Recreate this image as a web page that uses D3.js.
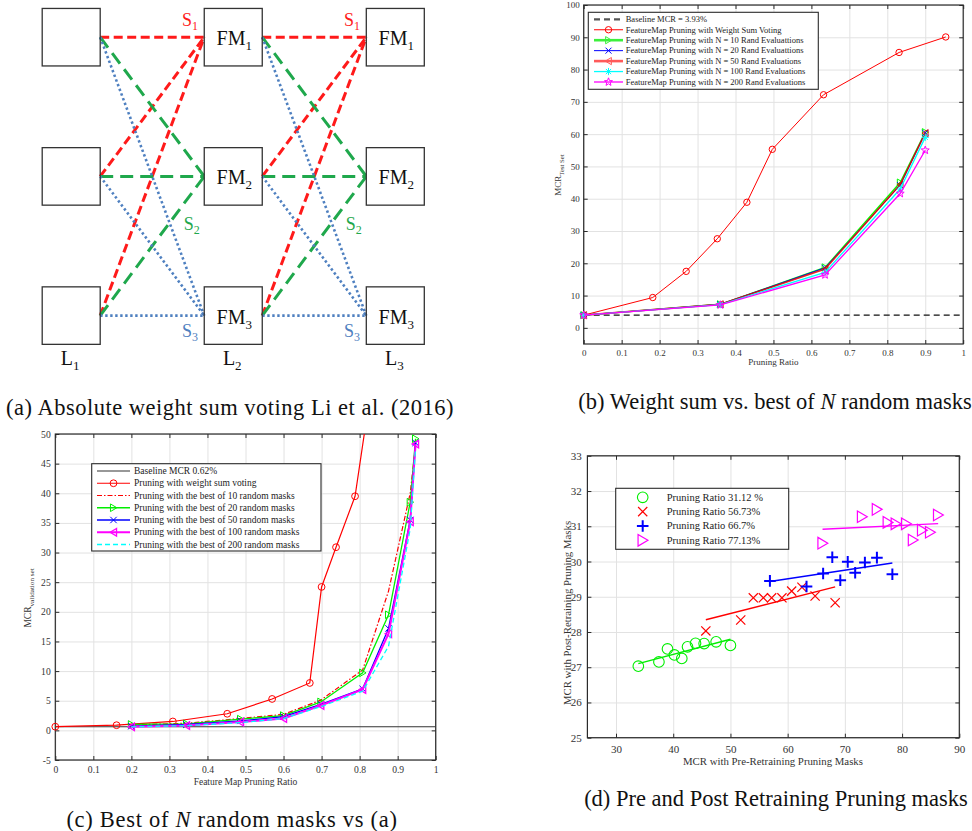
<!DOCTYPE html>
<html>
<head>
<meta charset="utf-8">
<script src="https://cdn.jsdelivr.net/npm/d3@7"></script>
<style>
body{margin:0;background:#fff}
text{font-family:'Liberation Serif','Times New Roman',serif}
</style>
</head>
<body>
<div id="fig"></div>
<script>
// ---------- (a) diagram ----------
var layerNames = ["1", "2", "3"];
var fmNames = ["1", "2", "3"];
var setNames = ["1", "2", "3"];

// ---------- (b) test set MCR ----------
var bXWeight = [0, 0.182, 0.27, 0.352, 0.43, 0.497, 0.632, 0.831, 0.954];
var bYWeight = [3.93, 9.4, 17.5, 27.6, 38.9, 55.3, 72.2, 85.3, 90.1];
var bXRand = [0, 0.36, 0.636, 0.834, 0.9];
var bYN10 = [3.93, 7.3, 18.7, 45.0, 60.6];
var bYN20 = [3.93, 7.3, 18.6, 44.2, 60.4];
var bYN50 = [3.93, 7.3, 18.2, 44.4, 60.3];
var bYN100 = [3.93, 7.2, 17.2, 43.0, 59.0];
var bYN200 = [3.93, 7.1, 16.4, 41.6, 55.0];
var bBaseline = 3.93;
var bLabels = ["Baseline MCR = 3.93%",
  "FeatureMap Pruning with Weight Sum Voting",
  "FeatureMap Pruning with N = 10 Rand Evaluattions",
  "FeatureMap Pruning with N = 20 Rand Evaluattions",
  "FeatureMap Pruning with N = 50 Rand Evaluations",
  "FeatureMap Pruning with N = 100 Rand Evaluations",
  "FeatureMap Pruning with N = 200 Rand Evaluations"];

// ---------- (c) validation set MCR ----------
var cXWeight = [0, 0.161, 0.309, 0.452, 0.57, 0.669, 0.70, 0.738, 0.788, 0.84];
var cYWeight = [0.62, 0.87, 1.5, 2.8, 5.3, 8.0, 24.2, 30.9, 39.5, 62];
var cXRand = [0.2, 0.345, 0.487, 0.6, 0.698, 0.808, 0.876, 0.933, 0.947];
var cYN10 = [0.9, 1.2, 2.0, 2.7, 5.1, 10.2, 23.5, 40.0, 48.0];
var cYN20 = [1.0, 1.1, 1.9, 2.5, 4.8, 9.7, 19.5, 38.5, 49.2];
var cYN50 = [0.7, 1.0, 1.6, 2.3, 4.4, 7.0, 17.2, 35.5, 48.5];
var cYN100 = [0.6, 0.8, 1.4, 2.0, 4.2, 6.9, 16.3, 35.2, 48.3];
var cYN200 = [0.6, 0.8, 1.3, 2.0, 4.0, 6.6, 14.2, 34.0, 47.5];
var cBaseline = 0.62;
var cLabels = ["Baseline MCR 0.62%",
  "Pruning with weight sum voting",
  "Pruning with the best of 10 random masks",
  "Pruning with the best of 20 random masks",
  "Pruning with the best of 50 random masks",
  "Pruning with the best of 100 random masks",
  "Pruning with the best of 200 random masks"];

// ---------- (d) pre vs post retraining ----------
var dX31 = [33.9, 37.5, 39.0, 40.2, 41.5, 42.5, 43.9, 45.4, 47.5, 50.0];
var dY31 = [27.03, 27.15, 27.52, 27.35, 27.25, 27.58, 27.68, 27.67, 27.72, 27.62];
var dX56 = [45.7, 51.8, 54.0, 55.75, 57.2, 59.0, 60.7, 62.5, 64.8, 68.3];
var dY56 = [28.03, 28.34, 28.97, 28.97, 28.97, 28.97, 29.16, 29.27, 29.02, 28.83];
var dX66 = [56.9, 63.3, 66.2, 67.8, 69.2, 70.5, 71.8, 73.5, 75.6, 78.3];
var dY66 = [29.45, 29.29, 29.66, 30.12, 29.47, 29.99, 29.68, 29.97, 30.11, 29.64];
var dX77 = [66.1, 73.0, 75.6, 77.5, 78.9, 80.7, 81.9, 83.5, 84.9, 86.3];
var dY77 = [30.52, 31.27, 31.48, 31.11, 31.07, 31.07, 30.61, 30.89, 30.83, 31.32];
var dLabels = ["Pruning Ratio 31.12 %", "Pruning Ratio 56.73%", "Pruning Ratio 66.7%", "Pruning Ratio 77.13%"];

var serif = "'Liberation Serif','Times New Roman',serif";
var axisColor = "#2b2b2b";
var gridColor = "#e2e2e2";

var svg = d3.select("#fig").append("svg")
    .attr("width", 972)
    .attr("height", 831)
    .style("background", "#fff")
    .attr("font-family", serif);

// ================= (a) =================
var colX = d3.scalePoint().domain(d3.range(layerNames.length)).range([71.2, 395.3]);
var rowY = d3.scalePoint().domain(d3.range(fmNames.length)).range([37.2, 315.6]);
var boxW = 58, boxH = 57.5;
var setColor = ["#ff1a1a", "#1fa84c", "#4f80c0"];
var setDash = ["9,4.5", "13,7", "2.4,2.6"];
var setWidth = [3, 3, 2.6];
var setLabelOff = [[-14.3, -11.7], [-12.6, 53.2], [-14.3, 21.8]];

var $a = svg.append("g");
var links = [];
for (var l = 0; l < layerNames.length - 1; l++)
    for (var s = 0; s < fmNames.length; s++)
        for (var r = 0; r < fmNames.length; r++) links.push({l: l, r: r, s: s});

$a.selectAll("line.link").data(links).join("line")
    .attr("class", "link")
    .attr("x1", d => colX(d.l) + boxW / 2)
    .attr("y1", d => rowY(d.r))
    .attr("x2", d => colX(d.l + 1) - boxW / 2)
    .attr("y2", d => rowY(d.s))
    .attr("stroke", d => setColor[d.s])
    .attr("stroke-width", d => setWidth[d.s])
    .attr("stroke-dasharray", d => setDash[d.s]);

var nodes = [];
layerNames.forEach((ln, li) => fmNames.forEach((fn, ri) => nodes.push({l: li, r: ri, fm: fn})));
$a.selectAll("rect.node").data(nodes).join("rect")
    .attr("class", "node")
    .attr("x", d => colX(d.l) - boxW / 2)
    .attr("y", d => rowY(d.r) - boxH / 2)
    .attr("width", boxW)
    .attr("height", boxH)
    .attr("fill", "none")
    .attr("stroke", "#333")
    .attr("stroke-width", 1.3);

var fmText = $a.selectAll("text.fm").data(nodes.filter(d => d.l > 0)).join("text")
    .attr("class", "fm")
    .attr("x", d => colX(d.l) + 1)
    .attr("y", d => rowY(d.r) + 8)
    .attr("text-anchor", "middle")
    .attr("font-size", 20)
    .attr("fill", "#111");
fmText.append("tspan").text("FM");
fmText.append("tspan").attr("font-size", 13).attr("dy", 5).text(d => d.fm);

var sLabels = [];
for (var l = 1; l < layerNames.length; l++) setNames.forEach((sn, si) => sLabels.push({l: l, s: si, name: sn}));
var sText = $a.selectAll("text.sl").data(sLabels).join("text")
    .attr("class", "sl")
    .attr("x", d => colX(d.l) - boxW / 2 + setLabelOff[d.s][0])
    .attr("y", d => rowY(d.s) + setLabelOff[d.s][1])
    .attr("text-anchor", "middle")
    .attr("font-size", 18)
    .attr("fill", d => setColor[d.s]);
sText.append("tspan").text("S");
sText.append("tspan").attr("font-size", 12).attr("dy", 4).text(d => d.name);

var lText = $a.selectAll("text.ll").data(layerNames).join("text")
    .attr("class", "ll")
    .attr("x", (d, i) => colX(i) - 1)
    .attr("y", 365)
    .attr("text-anchor", "middle")
    .attr("font-size", 20)
    .attr("fill", "#111");
lText.append("tspan").text("L");
lText.append("tspan").attr("font-size", 13).attr("dy", 5).text(d => d);

// ================= helpers =================
function markerPath(type, s) {
    switch (type) {
        case "circle":
            return `M${-s},0a${s},${s} 0 1,0 ${2 * s},0a${s},${s} 0 1,0 ${-2 * s},0Z`;
        case "x":
            return `M${-s},${-s}L${s},${s}M${-s},${s}L${s},${-s}`;
        case "plus":
            return `M${-s},0H${s}M0,${-s}V${s}`;
        case "triRight":
            return `M${-s * 0.8},${-s}L${s * 0.9},0L${-s * 0.8},${s}Z`;
        case "triLeft":
            return `M${s * 0.8},${-s}L${-s * 0.9},0L${s * 0.8},${s}Z`;
        case "asterisk":
            var k = s * 0.72;
            return `M${-s},0H${s}M0,${-s}V${s}M${-k},${-k}L${k},${k}M${-k},${k}L${k},${-k}`;
        case "star":
            var pts = d3.range(10).map(i => {
                var rr = i % 2 ? s * 0.42 : s;
                var a = -Math.PI / 2 + i * Math.PI / 5;
                return [rr * Math.cos(a), rr * Math.sin(a)];
            });
            return "M" + pts.map(p => p.join(",")).join("L") + "Z";
    }
    return "";
}

function drawAxes($g, x, y, xt, yt, fs, padX, padY) {
    var xr = x.range(), yr = y.range();
    var w = xr[1] - xr[0], h = yr[0] - yr[1];
    $g.append("g").attr("transform", `translate(0,${yr[0]})`)
        .call(d3.axisBottom(x).tickValues(xt).tickSize(-h).tickFormat(""))
        .call(g => g.select(".domain").remove())
        .call(g => g.selectAll("line").attr("stroke", gridColor));
    $g.append("g").attr("transform", `translate(${xr[0]},0)`)
        .call(d3.axisLeft(y).tickValues(yt).tickSize(-w).tickFormat(""))
        .call(g => g.select(".domain").remove())
        .call(g => g.selectAll("line").attr("stroke", gridColor));

    var styleAx = g => {
        g.attr("font-family", serif);
        g.select(".domain").remove();
        g.selectAll("line").attr("stroke", axisColor);
        g.selectAll("text").attr("fill", "#333").attr("font-size", fs);
    };
    $g.append("g").attr("transform", `translate(0,${yr[0]})`)
        .call(d3.axisBottom(x).tickValues(xt).tickSizeInner(-4).tickSizeOuter(0).tickPadding(padX).tickFormat(d => String(+d.toFixed(2))))
        .call(styleAx);
    $g.append("g").attr("transform", `translate(0,${yr[1]})`)
        .call(d3.axisTop(x).tickValues(xt).tickSizeInner(-4).tickSizeOuter(0).tickFormat(""))
        .call(styleAx);
    $g.append("g").attr("transform", `translate(${xr[0]},0)`)
        .call(d3.axisLeft(y).tickValues(yt).tickSizeInner(-4).tickSizeOuter(0).tickPadding(padY).tickFormat(d => String(d)))
        .call(styleAx);
    $g.append("g").attr("transform", `translate(${xr[1]},0)`)
        .call(d3.axisRight(y).tickValues(yt).tickSizeInner(-4).tickSizeOuter(0).tickFormat(""))
        .call(styleAx);
    $g.append("rect")
        .attr("x", xr[0]).attr("y", yr[1])
        .attr("width", w).attr("height", h)
        .attr("fill", "none")
        .attr("stroke", axisColor)
        .attr("stroke-width", 1.2);
}

function addClip(id, x, y) {
    var xr = x.range(), yr = y.range();
    svg.append("clipPath").attr("id", id).append("rect")
        .attr("x", xr[0]).attr("y", yr[1])
        .attr("width", xr[1] - xr[0]).attr("height", yr[0] - yr[1]);
}

function drawSeries($g, x, y, xs, ys, st, clipId) {
    var pts = d3.zip(xs, ys);
    if (st.width > 0) {
        $g.append("path")
            .attr("d", d3.line().x(d => x(d[0])).y(d => y(d[1]))(pts))
            .attr("fill", "none")
            .attr("stroke", st.color)
            .attr("stroke-width", st.width)
            .attr("stroke-dasharray", st.dash || null)
            .attr("clip-path", `url(#${clipId})`);
    }
    if (st.marker) {
        var yd = y.domain();
        $g.selectAll(null).data(pts.filter(d => d[1] <= yd[1] && d[1] >= yd[0])).join("path")
            .attr("transform", d => `translate(${x(d[0])},${y(d[1])})`)
            .attr("d", markerPath(st.marker, st.msize))
            .attr("fill", "none")
            .attr("stroke", st.color)
            .attr("stroke-width", st.mwidth || 1);
    }
}

function drawLegend($g, box, rows, fs, lineX0, lineX1, textX) {
    $g.append("rect")
        .attr("x", box[0]).attr("y", box[1])
        .attr("width", box[2] - box[0]).attr("height", box[3] - box[1])
        .attr("fill", "#fff")
        .attr("stroke", axisColor)
        .attr("stroke-width", 1.1);
    rows.forEach(rw => {
        var st = rw.st;
        if (lineX1 > lineX0 && st.width > 0) {
            $g.append("line")
                .attr("x1", lineX0).attr("x2", lineX1)
                .attr("y1", rw.y).attr("y2", rw.y)
                .attr("stroke", st.legendColor || st.color)
                .attr("stroke-width", st.legendWidth || st.width)
                .attr("stroke-dasharray", st.dash || null);
        }
        if (st.marker) {
            $g.append("path")
                .attr("transform", `translate(${(lineX0 + lineX1) / 2},${rw.y})`)
                .attr("d", markerPath(st.marker, st.msize))
                .attr("fill", "none")
                .attr("stroke", st.legendColor || st.color)
                .attr("stroke-width", st.mwidth || 1);
        }
        $g.append("text")
            .attr("x", textX).attr("y", rw.y)
            .attr("dy", "0.33em")
            .attr("font-size", fs)
            .attr("fill", "#222")
            .text(rw.label);
    });
}

function rotLabel($g, x, y, main, sub, fs) {
    var t = $g.append("text")
        .attr("transform", `translate(${x},${y}) rotate(-90)`)
        .attr("text-anchor", "middle")
        .attr("font-size", fs)
        .attr("fill", "#333");
    t.append("tspan").text(main);
    if (sub) t.append("tspan").attr("font-size", fs * 0.75).attr("dy", fs * 0.3).text(sub);
}

function caption(x, y, parts, spacing) {
    var t = svg.append("text")
        .attr("x", x).attr("y", y)
        .attr("text-anchor", "middle")
        .attr("font-family", serif)
        .attr("font-size", 22.5)
        .attr("letter-spacing", spacing || 0)
        .attr("fill", "#111");
    parts.forEach(p => t.append("tspan").attr("font-style", p[1] ? "italic" : null).text(p[0]));
}

// ================= (b) =================
var xb = d3.scaleLinear().domain([0, 1]).range([583.7, 963.2]);
var yb = d3.scaleLinear().domain([-5, 100]).range([344, 5]);
var $b = svg.append("g");
addClip("clipB", xb, yb);
drawAxes($b, xb, yb, d3.range(0, 1.01, 0.1), d3.range(0, 101, 10), 9, 5.5, 4);

var bStyles = [
    {color: "#111", width: 1.2, dash: "6,4", legendColor: "#555", legendWidth: 2.2},
    {color: "#ff0000", width: 1, marker: "circle", msize: 3.2},
    {color: "#00ff00", width: 1.4, marker: "triRight", msize: 3.6, legendWidth: 2.6, legendColor: "#3cf03c"},
    {color: "#0000ff", width: 1, marker: "x", msize: 3},
    {color: "rgba(230,0,0,0.85)", width: 1.6, marker: "triLeft", msize: 3.6, legendWidth: 2.6, legendColor: "#ff5a5a"},
    {color: "#00ffff", width: 1.3, marker: "asterisk", msize: 3.6},
    {color: "#ff00ff", width: 1.3, marker: "star", msize: 4.2}
];
drawSeries($b, xb, yb, xb.domain(), [bBaseline, bBaseline], bStyles[0], "clipB");
drawSeries($b, xb, yb, bXWeight, bYWeight, bStyles[1], "clipB");
[bYN10, bYN20, bYN50, bYN100, bYN200].forEach((ys, i) => drawSeries($b, xb, yb, bXRand, ys, bStyles[i + 2], "clipB"));
var bLegY = d3.scalePoint().domain(d3.range(bLabels.length)).range([19.3, 82]);
drawLegend($b, [588.3, 12.3, 818.3, 89.3], bLabels.map((lb, i) => ({label: lb, st: bStyles[i], y: bLegY(i)})), 8.5, 594, 623, 625.7);
$b.append("text").attr("x", 773.5).attr("y", 365).attr("text-anchor", "middle")
    .attr("font-size", 9).attr("fill", "#333").text("Pruning Ratio");
rotLabel($b, 561, 175, "MCR", "Test Set", 9);

// ================= (c) =================
var xc = d3.scaleLinear().domain([0, 1]).range([55.3, 435.7]);
var yc = d3.scaleLinear().domain([-5, 50]).range([760, 434]);
var $c = svg.append("g");
addClip("clipC", xc, yc);
drawAxes($c, xc, yc, d3.range(0, 1.01, 0.1), d3.range(-5, 51, 5), 9.6, 6.5, 4.6);

var cStyles = [
    {color: "#333", width: 1.1},
    {color: "#ff0000", width: 1.2, marker: "circle", msize: 3.4},
    {color: "#ff0000", width: 1.2, dash: "5,2,1.5,2"},
    {color: "#00ee00", width: 1.3, marker: "triRight", msize: 3.8},
    {color: "#0000ff", width: 1.3, marker: "x", msize: 3.2},
    {color: "#ff00ff", width: 2, marker: "triLeft", msize: 3.8, mwidth: 1.3},
    {color: "#00ffff", width: 1.3, dash: "5,3"}
];
drawSeries($c, xc, yc, xc.domain(), [cBaseline, cBaseline], cStyles[0], "clipC");
drawSeries($c, xc, yc, cXWeight, cYWeight, cStyles[1], "clipC");
[cYN10, cYN20, cYN50, cYN100, cYN200].forEach((ys, i) => drawSeries($c, xc, yc, cXRand, ys, cStyles[i + 2], "clipC"));
var cLegY = d3.scalePoint().domain(d3.range(cLabels.length)).range([471, 544.5]);
drawLegend($c, [91.7, 463.7, 321, 551], cLabels.map((lb, i) => ({label: lb, st: cStyles[i], y: cLegY(i)})), 9.5, 97, 130, 134);
$c.append("text").attr("x", 245.5).attr("y", 785).attr("text-anchor", "middle")
    .attr("font-size", 9.5).attr("fill", "#333").text("Feature Map Pruning Ratio");
rotLabel($c, 31, 598, "MCR", "validation set", 9.5);

// ================= (d) =================
var xd = d3.scaleLinear().domain([25, 90]).range([587.4, 959.3]);
var yd = d3.scaleLinear().domain([25, 33]).range([737.7, 455.8]);
var $d = svg.append("g");
addClip("clipD", xd, yd);
drawAxes($d, xd, yd, d3.range(30, 91, 10), d3.range(25, 34, 1), 11, 7.4, 5.6);

var dStyles = [
    {color: "#00ee00", width: 0, marker: "circle", msize: 5.3, mwidth: 1.1},
    {color: "#ff0000", width: 0, marker: "x", msize: 4.6, mwidth: 1.2},
    {color: "#0000ff", width: 0, marker: "plus", msize: 5.8, mwidth: 2},
    {color: "#ff00ff", width: 0, marker: "triRight", msize: 5.8, mwidth: 1.2}
];
var dSets = [[dX31, dY31], [dX56, dY56], [dX66, dY66], [dX77, dY77]];
dSets.forEach((ds, i) => {
    // least squares fit over each group
    var mx = d3.mean(ds[0]), my = d3.mean(ds[1]);
    var slope = d3.sum(ds[0], (v, j) => (v - mx) * (ds[1][j] - my)) / d3.sum(ds[0], v => (v - mx) * (v - mx));
    var ext = d3.extent(ds[0]);
    drawSeries($d, xd, yd, ext, ext.map(v => my + slope * (v - mx)), {color: dStyles[i].color, width: 1.4}, "clipD");
    drawSeries($d, xd, yd, ds[0], ds[1], dStyles[i], "clipD");
});
var dLegY = d3.scalePoint().domain(d3.range(dLabels.length)).range([497.3, 540.3]);
drawLegend($d, [615.7, 488.3, 788.7, 549.3], dLabels.map((lb, i) => ({label: lb, st: dStyles[i], y: dLegY(i)})), 10.5, 642.7, 642.7, 666.7);
$d.append("text").attr("x", 773).attr("y", 765).attr("text-anchor", "middle")
    .attr("font-size", 10.8).attr("fill", "#333").text("MCR with Pre-Retraining Pruning Masks");
rotLabel($d, 570.5, 613, "MCR with Post-Retraining Pruning Masks", null, 10.8);

// ================= captions =================
caption(230, 415, [["(a) Absolute weight sum voting Li et al. (2016)", false]], 0.5);
caption(232, 827, [["(c) Best of ", false], ["N", true], [" random masks vs (a)", false]], 0.7);
caption(775, 409, [["(b) Weight sum vs. best of ", false], ["N", true], [" random masks", false]]);
caption(776, 806, [["(d) Pre and Post Retraining Pruning masks", false]]);
</script>
</body>
</html>
